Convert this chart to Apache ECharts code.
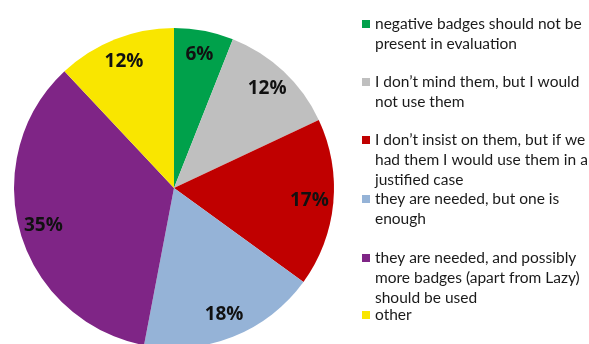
<!DOCTYPE html>
<html>
<head>
<meta charset="utf-8">
<script src="https://cdn.jsdelivr.net/npm/echarts@6/dist/echarts.min.js"></script>
<style>
  html, body { margin: 0; padding: 0; background: #fff; }
  #main { width: 589px; height: 344px; }
</style>
</head>
<body>
<div id="main"></div>
<script>
// answers (clockwise from 12 o'clock)
const categories = [
  "negative badges should not be present in evaluation",
  "I don’t mind them, but I would not use them",
  "I don’t insist on them, but if we had them I would use them in a justified case",
  "they are needed, but one is enough",
  "they are needed, and possibly more badges (apart from Lazy) should be used",
  "other"
];
// legend text as wrapped in the original
const legendLines = [
  ["negative badges should not be", "present in evaluation"],
  ["I don’t mind them, but I would", "not use them"],
  ["I don’t insist on them, but if we", "had them I would use them in a", "justified case"],
  ["they are needed, but one is", "enough"],
  ["they are needed, and possibly", "more badges (apart from Lazy)", "should be used"],
  ["other"]
];
const percents = [6, 12, 17, 18, 35, 12];
const colors = ["#00A14B", "#BFBFBF", "#C00000", "#95B3D7", "#7F2586", "#F9E600"];

const LINE_H = 20;
const BOX = 8;
const legendTops = [24, 82, 140, 199, 258, 315]; // first line centre of each entry

const pieData = categories.map((name, i) => ({
  name: name,
  value: percents[i],
  itemStyle: { color: colors[i] }
}));

// one legend per entry so the square sits on the first text line
const legends = categories.map((name, i) => {
  const n = legendLines[i].length;
  const h = (n - 1) * LINE_H + BOX;
  return {
    data: [name],
    orient: "vertical",
    left: 362,
    top: legendTops[i] - LINE_H / 2,
    padding: 0,
    // square at the top, empty point at the bottom to stretch the icon box
    icon: "path://M0,0H" + BOX + "V" + BOX + "H0Z M0," + h + "L0.001," + h,
    itemWidth: BOX,
    itemHeight: h,
    selectedMode: false,
    formatter: () => legendLines[i].join("\n"),
    textStyle: {
      fontFamily: "Lato",
      fontSize: 15.5,
      color: "#1a1a1a",
      lineHeight: LINE_H
    }
  };
});

const chartDom = document.getElementById("main");
const myChart = echarts.init(chartDom);
const option = {
  animation: false,
  legend: legends,
  series: [
    {
      name: "answers",
      type: "pie",
      center: [174, 188],
      radius: [0, 160],
      startAngle: 90,
      clockwise: true,
      label: { show: false },
      labelLine: { show: false },
      emphasis: { disabled: true },
      data: pieData
    },
    {
      // transparent ring only used to put the labels near the rim
      name: "labels",
      type: "pie",
      silent: true,
      center: [174, 188],
      radius: [106, 160],
      startAngle: 90,
      clockwise: true,
      itemStyle: { color: "transparent" },
      label: {
        show: true,
        position: "inside",
        formatter: "{c}%",
        fontFamily: "Open Sans",
        fontWeight: "bold",
        fontSize: 19,
        color: "#111"
      },
      labelLine: { show: false },
      data: percents.map((v, i) => ({ name: categories[i], value: v }))
    }
  ]
};
option && myChart.setOption(option);
</script>
</body>
</html>
